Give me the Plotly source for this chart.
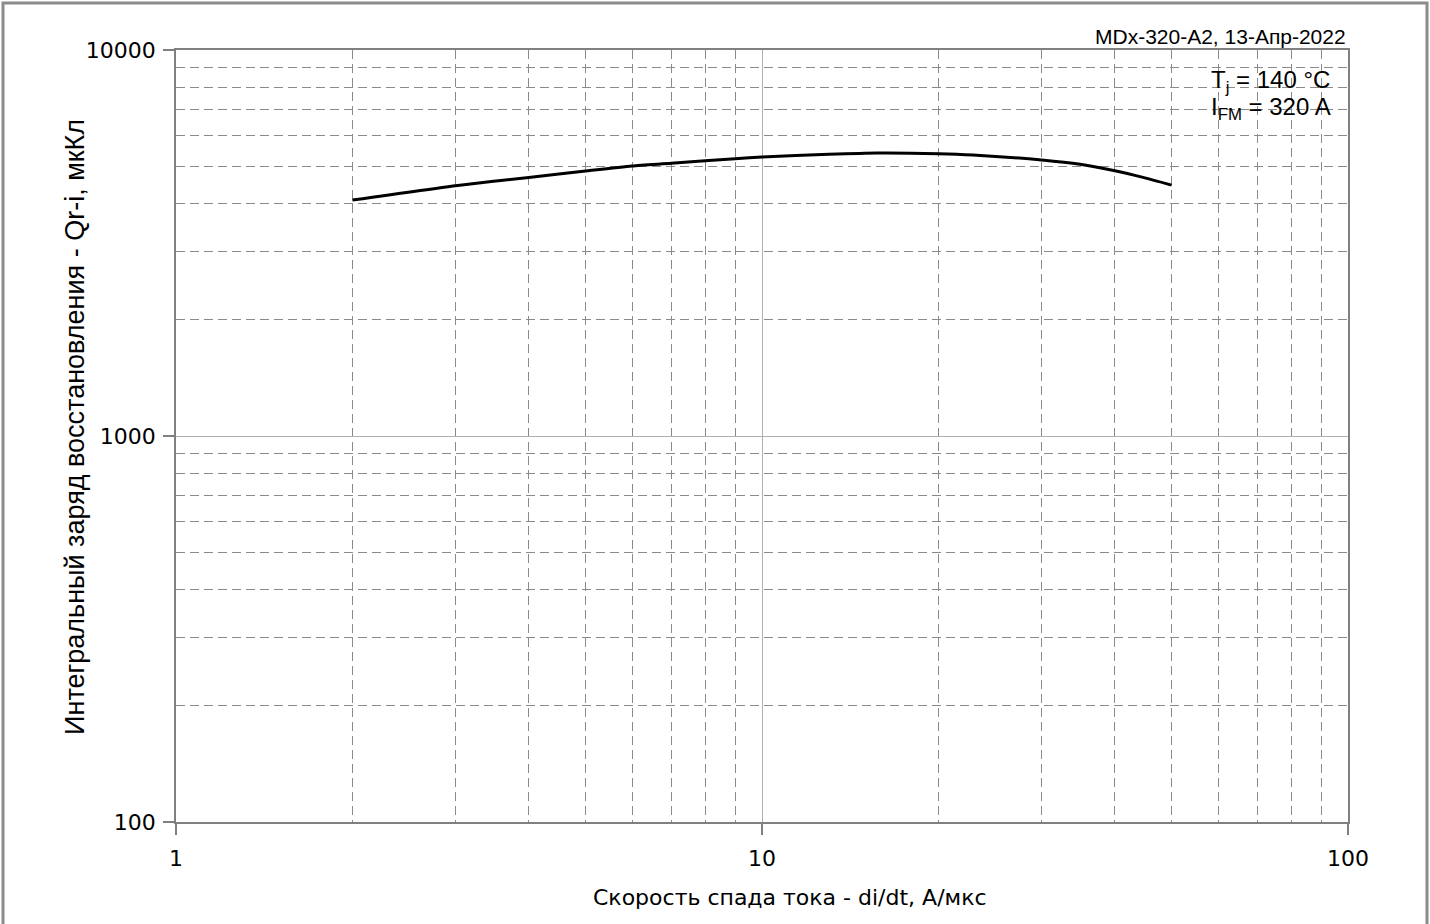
import plotly.graph_objects as go

# Data
di_dt = [2, 3, 4, 5, 6, 7, 8, 9, 10, 13, 15.7, 20, 22.9, 30, 34.9, 40, 44.7, 50]
qrr = [4087, 4452, 4677, 4860, 5006, 5086, 5168, 5230, 5282, 5367, 5410, 5388, 5346, 5188, 5057, 4867, 4677, 4467]

x_major = [1, 10, 100]
x_minor = [2, 3, 4, 5, 6, 7, 8, 9, 20, 30, 40, 50, 60, 70, 80, 90]
y_major = [100, 1000, 10000]
y_minor = [200, 300, 400, 500, 600, 700, 800, 900, 2000, 3000, 4000, 5000, 6000, 7000, 8000, 9000]

title_x = "Скорость спада тока - di/dt, А/мкс"
title_y = "Интегральный заряд восстановления - Qr-i, мкКл"
stamp = "MDx-320-A2, 13-Апр-2022"
cond1 = "T<sub>j</sub> = 140 °C"
cond2 = "I<sub>FM</sub> = 320 A"

fig = go.Figure()
fig.add_trace(go.Scatter(
    x=di_dt, y=qrr, mode="lines",
    line=dict(color="black", width=3, shape="spline", smoothing=0.6),
    showlegend=False, hoverinfo="x+y",
))

grid_major = "#b0b0b0"
grid_minor = "#8a8a8a"
axis_col = "#808080"

common = dict(
    showline=True, linecolor=axis_col, linewidth=1.5, mirror=True,
    ticks="outside", ticklen=11, tickwidth=1.5, tickcolor=axis_col,
    showgrid=True, gridcolor=grid_major, gridwidth=1,
    tickfont=dict(family="DejaVu Sans", size=22, color="black"),
    zeroline=False,
)

fig.update_xaxes(
    type="log", range=[0, 2], tickvals=x_major, ticktext=[str(v) for v in x_major],
    minor=dict(tickvals=x_minor, showgrid=True, griddash="9px,5px",
               gridcolor=grid_minor, gridwidth=1, ticks=""),
    ticklabelstandoff=5,
    **common,
)
fig.update_yaxes(
    type="log", range=[2, 4], tickvals=y_major, ticktext=[str(v) for v in y_major],
    minor=dict(tickvals=y_minor, showgrid=True, griddash="9px,5px",
               gridcolor=grid_minor, gridwidth=1, ticks=""),
    ticklabelstandoff=3,
    **common,
)

# axis titles (placed as in the reference)
fig.add_annotation(text=title_x, xref="paper", yref="paper", x=0.524, y=-0.098,
                   xanchor="center", yanchor="middle", showarrow=False,
                   font=dict(family="DejaVu Sans", size=22, color="black"))
fig.add_annotation(text=title_y, xref="paper", yref="paper", x=-0.0862, y=0.5117,
                   xanchor="center", yanchor="middle", showarrow=False, textangle=-90,
                   font=dict(family="Liberation Sans", size=27, color="black"))

fig.add_annotation(text=stamp, xref="paper", yref="paper", x=1.0, y=1.018,
                   xanchor="right", yanchor="middle", showarrow=False,
                   font=dict(family="Liberation Sans", size=21, color="black"))
fig.add_annotation(text=cond1, xref="paper", yref="paper", x=0.8814, y=0.9595,
                   xanchor="left", yanchor="middle", showarrow=False,
                   font=dict(family="Liberation Sans", size=24, color="black"))
fig.add_annotation(text=cond2, xref="paper", yref="paper", x=0.8814, y=0.9245,
                   xanchor="left", yanchor="middle", showarrow=False,
                   font=dict(family="Liberation Sans", size=24, color="black"))

# outer frame of the picture
fig.add_shape(type="rect", xref="paper", yref="paper",
              x0=(3 - 176) / 1172, x1=(1427 - 176) / 1172,
              y0=-0.2, y1=(822 - 3) / 772,
              line=dict(color="#8c8c8c", width=3), layer="below")

fig.update_layout(
    width=1430, height=924,
    margin=dict(l=176, r=82, t=50, b=102),
    paper_bgcolor="white", plot_bgcolor="white",
)

fig.write_html("out.html", config={"displayModeBar": False},
               post_script="document.body.style.margin='0';")
